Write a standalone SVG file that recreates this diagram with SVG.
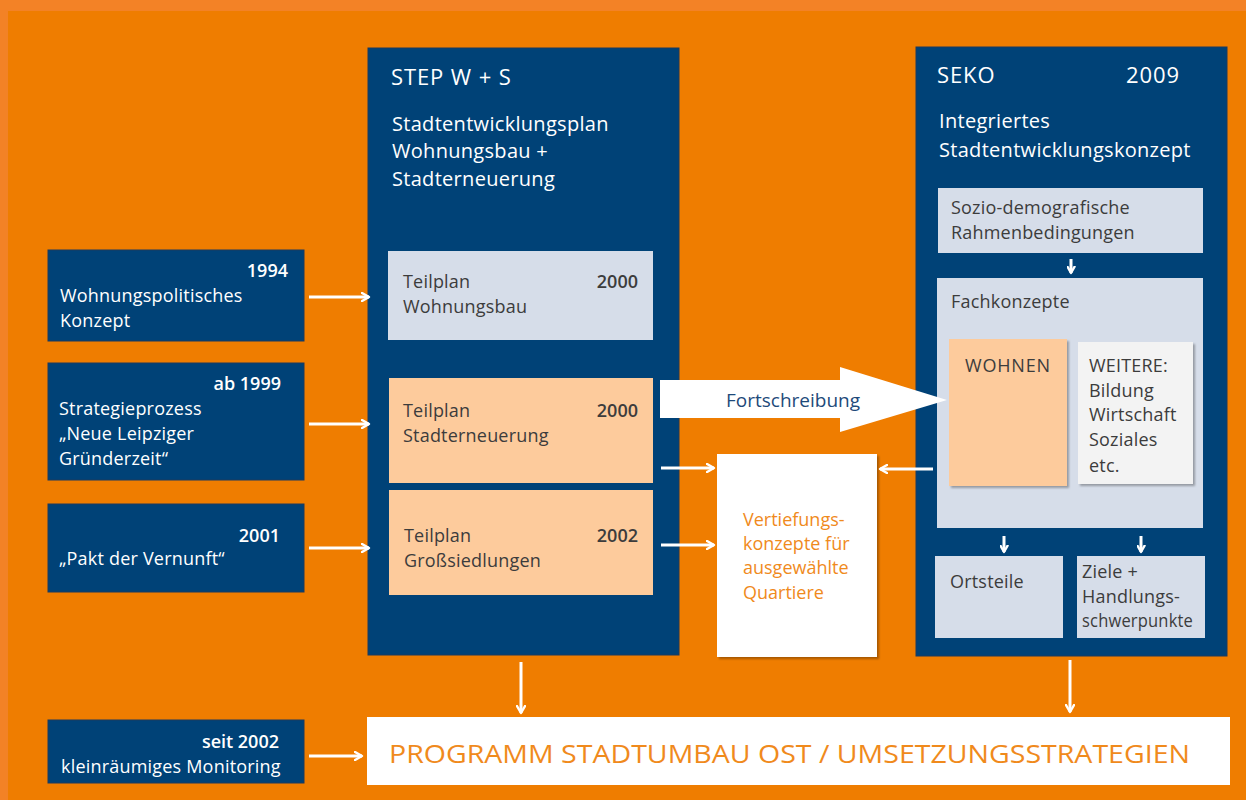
<svg xmlns="http://www.w3.org/2000/svg" width="1246" height="800" viewBox="0 0 1246 800">
  <defs>
    <marker id="head" viewBox="0 0 10 10" refX="8" refY="5" markerWidth="10" markerHeight="10" markerUnits="userSpaceOnUse" orient="auto">
      <polyline points="1,1 8,5 1,9" fill="none" stroke="#ffffff" stroke-width="2.4" stroke-linecap="round" stroke-linejoin="round"/>
    </marker>
    <marker id="headS" viewBox="0 0 10 10" refX="8" refY="5" markerWidth="9" markerHeight="9" markerUnits="userSpaceOnUse" orient="auto">
      <polyline points="1,1 8,5 1,9" fill="none" stroke="#ffffff" stroke-width="2.6" stroke-linecap="round" stroke-linejoin="round"/>
    </marker>
    <filter id="shadow" x="-10%" y="-10%" width="130%" height="130%">
      <feDropShadow dx="2" dy="2" stdDeviation="1" flood-color="#000000" flood-opacity="0.3"/>
    </filter>
  </defs>
  <style>
    text { font-family: "Open Sans", "Noto Sans", "Liberation Sans", sans-serif; }
    .navy { fill: #004277; stroke: #1c3a5e; stroke-width: 1; }
    .light { fill: #d6dde9; }
    .peach { fill: #fdcb9c; }
    .pale { fill: #f3f3f3; }
    .white { fill: #ffffff; }
    .tw { fill: #ffffff; font-size: 18px; letter-spacing: 0.2px; }
    .twb { fill: #ffffff; font-size: 18px; font-weight: 600; }
    .head { fill: #ffffff; font-size: 22px; letter-spacing: 0.9px; }
    .sub { fill: #ffffff; font-size: 20px; letter-spacing: 0.3px; }
    .td { fill: #3c3c3c; font-size: 18px; letter-spacing: 0.2px; }
    .tdb { fill: #3c3c3c; font-size: 18px; font-weight: 600; }
    .caps { letter-spacing: 0.8px; }
    .to { fill: #f08a1c; font-size: 18px; }
    .line { stroke: #ffffff; stroke-width: 3; fill: none; }
  </style>

  <!-- background -->
  <rect x="0" y="0" width="1246" height="800" fill="#f38226"/>
  <rect x="8" y="11" width="1238" height="789" fill="#ef7d00"/>

  <!-- inputs on the left -->
  <g id="n-wohnungspolitisch">
    <rect class="navy" x="48" y="250" width="256" height="91"/>
    <text class="twb" x="288" y="277" text-anchor="end">1994</text>
    <text class="tw" x="60" y="302">Wohnungspolitisches</text>
    <text class="tw" x="60" y="327">Konzept</text>
  </g>
  <g id="n-strategieprozess">
    <rect class="navy" x="48" y="363" width="256" height="117"/>
    <text class="twb" x="281" y="390" text-anchor="end">ab 1999</text>
    <text class="tw" x="59" y="415">Strategieprozess</text>
    <text class="tw" x="59" y="440">„Neue Leipziger</text>
    <text class="tw" x="59" y="465">Gründerzeit“</text>
  </g>
  <g id="n-pakt">
    <rect class="navy" x="48" y="504" width="256" height="88"/>
    <text class="twb" x="280" y="542" text-anchor="end">2001</text>
    <text class="tw" x="59" y="565">„Pakt der Vernunft“</text>
  </g>
  <g id="n-monitoring">
    <rect class="navy" x="48" y="720" width="256" height="63"/>
    <text class="twb" x="279" y="748" text-anchor="end">seit 2002</text>
    <text class="tw" x="61" y="773">kleinräumiges Monitoring</text>
  </g>

  <!-- STEP W + S panel -->
  <g id="n-step">
    <rect class="navy" x="368" y="48" width="311" height="607"/>
    <text class="head" x="391" y="85">STEP W + S</text>
    <text class="sub" x="392" y="131">Stadtentwicklungsplan</text>
    <text class="sub" x="392" y="158">Wohnungsbau +</text>
    <text class="sub" x="392" y="186">Stadterneuerung</text>
  </g>
  <g id="n-tp-wohnungsbau">
    <rect class="light" x="388" y="251" width="265" height="89"/>
    <text class="td" x="403" y="288">Teilplan</text>
    <text class="td" x="403" y="313">Wohnungsbau</text>
    <text class="tdb" x="638" y="288" text-anchor="end">2000</text>
  </g>
  <g id="n-tp-stadterneuerung">
    <rect class="peach" x="389" y="378" width="264" height="105"/>
    <text class="td" x="403" y="417">Teilplan</text>
    <text class="td" x="403" y="442">Stadterneuerung</text>
    <text class="tdb" x="638" y="417" text-anchor="end">2000</text>
  </g>
  <g id="n-tp-grosssiedlungen">
    <rect class="peach" x="389" y="490" width="264" height="105"/>
    <text class="td" x="404" y="542">Teilplan</text>
    <text class="td" x="404" y="567">Großsiedlungen</text>
    <text class="tdb" x="638" y="542" text-anchor="end">2002</text>
  </g>

  <!-- Vertiefungskonzepte -->
  <g id="n-vertiefung">
    <rect class="white" x="717" y="454" width="160" height="203" filter="url(#shadow)"/>
    <text class="to" x="743" y="526">Vertiefungs-</text>
    <text class="to" x="743" y="550">konzepte für</text>
    <text class="to" x="743" y="574">ausgewählte</text>
    <text class="to" x="743" y="599">Quartiere</text>
  </g>

  <!-- SEKO panel -->
  <g id="n-seko">
    <rect class="navy" x="916" y="47" width="311" height="609"/>
    <text class="head" x="937" y="83">SEKO</text>
    <text class="head" x="1180" y="83" text-anchor="end">2009</text>
    <text class="sub" x="939" y="128">Integriertes</text>
    <text class="sub" x="939" y="157">Stadtentwicklungskonzept</text>
  </g>
  <g id="n-sozio">
    <rect class="light" x="938" y="188" width="265" height="65"/>
    <text class="td" x="951" y="214">Sozio-demografische</text>
    <text class="td" x="951" y="239">Rahmenbedingungen</text>
  </g>
  <g id="n-fachkonzepte">
    <rect class="light" x="937" y="278" width="266" height="250"/>
    <text class="td" x="951" y="308">Fachkonzepte</text>
  </g>
  <g id="n-wohnen">
    <rect class="peach" x="949" y="339" width="118" height="147" filter="url(#shadow)"/>
    <text class="td caps" x="965" y="372">WOHNEN</text>
  </g>
  <g id="n-weitere">
    <rect class="pale" x="1078" y="342" width="115" height="142" filter="url(#shadow)"/>
    <text class="td" x="1089" y="372">WEITERE:</text>
    <text class="td" x="1089" y="397">Bildung</text>
    <text class="td" x="1089" y="421">Wirtschaft</text>
    <text class="td" x="1089" y="446">Soziales</text>
    <text class="td" x="1089" y="472">etc.</text>
  </g>
  <g id="n-ortsteile">
    <rect class="light" x="935" y="556" width="128" height="82"/>
    <text class="td" x="950" y="588">Ortsteile</text>
  </g>
  <g id="n-ziele">
    <rect class="light" x="1077" y="556" width="128" height="82"/>
    <text class="td" x="1082" y="578">Ziele +</text>
    <text class="td" x="1082" y="603">Handlungs-</text>
    <text class="td" x="1082" y="627" textLength="111" lengthAdjust="spacingAndGlyphs">schwerpunkte</text>
  </g>

  <!-- Programm Stadtumbau Ost -->
  <g id="n-programm">
    <rect class="white" x="367" y="717" width="863" height="68"/>
    <text x="389" y="763" fill="#f08a1c" font-size="26" textLength="801" lengthAdjust="spacingAndGlyphs">PROGRAMM STADTUMBAU OST / UMSETZUNGSSTRATEGIEN</text>
  </g>

  <!-- connectors -->
  <g id="connectors">
    <g id="c-fortschreibung">
      <polygon points="660,380 840,380 840,367 947,400 840,432 840,418 660,418" fill="#ffffff"/>
      <text x="726" y="407" fill="#1e4a7a" font-size="19">Fortschreibung</text>
    </g>
    <line class="line" x1="309" y1="297" x2="369" y2="297" marker-end="url(#head)"/>
    <line class="line" x1="309" y1="424" x2="369" y2="424" marker-end="url(#head)"/>
    <line class="line" x1="309" y1="548" x2="369" y2="548" marker-end="url(#head)"/>
    <line class="line" x1="309" y1="756" x2="362" y2="756" marker-end="url(#head)"/>
    <line class="line" x1="661" y1="468" x2="714" y2="468" marker-end="url(#head)"/>
    <line class="line" x1="661" y1="545" x2="714" y2="545" marker-end="url(#head)"/>
    <line class="line" x1="933" y1="469" x2="880" y2="469" marker-end="url(#head)"/>
    <line class="line" x1="521" y1="662" x2="521" y2="713" marker-end="url(#head)"/>
    <line class="line" x1="1070" y1="660" x2="1070" y2="712" marker-end="url(#head)"/>
    <line class="line" x1="1071" y1="259" x2="1071" y2="273" marker-end="url(#headS)"/>
    <line class="line" x1="1004" y1="536" x2="1004" y2="552" marker-end="url(#headS)"/>
    <line class="line" x1="1141" y1="536" x2="1141" y2="552" marker-end="url(#headS)"/>
  </g>
</svg>
